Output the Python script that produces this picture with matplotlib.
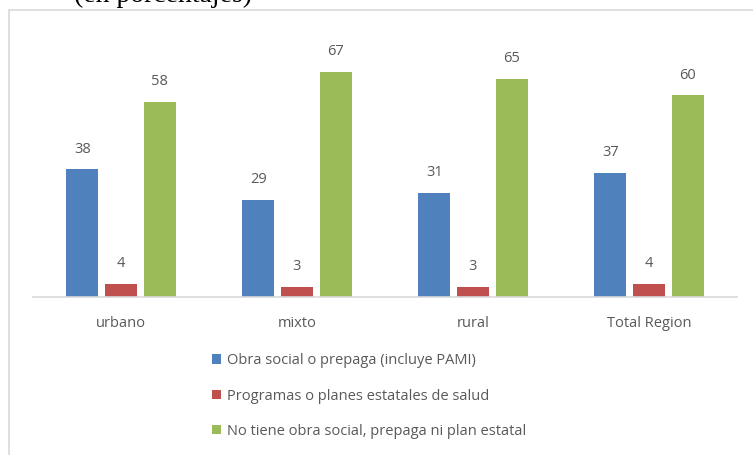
import numpy as np
import matplotlib.pyplot as plt
from matplotlib.patches import Rectangle

categories = ["urbano", "mixto", "rural", "Total Region"]
obra_social = [38, 29, 31, 37]
programas = [4, 3, 3, 4]
no_tiene = [58, 67, 65, 60]
series_labels = [
    "Obra social o prepaga (incluye PAMI)",
    "Programas o planes estatales de salud",
    "No tiene obra social, prepaga ni plan estatal",
]
colors = ["#4f81bd", "#c0504d", "#9bbb59"]

W, H = 753, 455
fig = plt.figure(figsize=(W / 100, H / 100), dpi=100)
font = "Open Sans"
gray = "#595959"

# chart frame (clipped on the right / bottom like the screenshot)
fig.patches.append(Rectangle((9 / W, -0.05), 1.0, 1 - 10 / H + 0.05,
                             transform=fig.transFigure, fill=False,
                             edgecolor="#d9d9d9", linewidth=1.2))

# caption line at the top, cut off by the screenshot
fig.text(74 / W, 1 - 2 / H, "(en porcentajes)", family="Liberation Serif",
         fontsize=20, va="baseline", ha="left", color="black")

ax = fig.add_axes([33 / W, 1 - 297 / H, (737 - 33) / W, (297 - 40) / H])
x = np.arange(len(categories))
width = 0.18
step = 0.22
for i, (vals, c) in enumerate(zip([obra_social, programas, no_tiene], colors)):
    pos = x + (i - 1) * step
    ax.bar(pos, vals, width, color=c, label=series_labels[i])
    for p, v in zip(pos, vals):
        ax.text(p, v + 6.0, str(v), ha="center", va="center",
                fontsize=10.5, color=gray, family=font)

ax.set_xlim(-0.5, len(categories) - 0.5)
ax.set_ylim(0, 257 / 3.36)
ax.set_yticks([])
ax.set_xticks(x)
ax.set_xticklabels(categories, fontsize=10.5, color=gray, family=font)
ax.tick_params(axis="x", length=0, pad=14)
for s in ["top", "right", "left"]:
    ax.spines[s].set_visible(False)
ax.spines["bottom"].set_color("#d9d9d9")
ax.spines["bottom"].set_linewidth(1.2)

leg = fig.legend(loc="upper left", bbox_to_anchor=(199 / W, 1 - 340 / H),
                 frameon=False, handlelength=0.6, handleheight=0.6,
                 handletextpad=0.4, labelspacing=1.4,
                 prop={"family": font, "size": 10.5})
for t in leg.get_texts():
    t.set_color(gray)

fig.savefig("out.png", dpi=100)
